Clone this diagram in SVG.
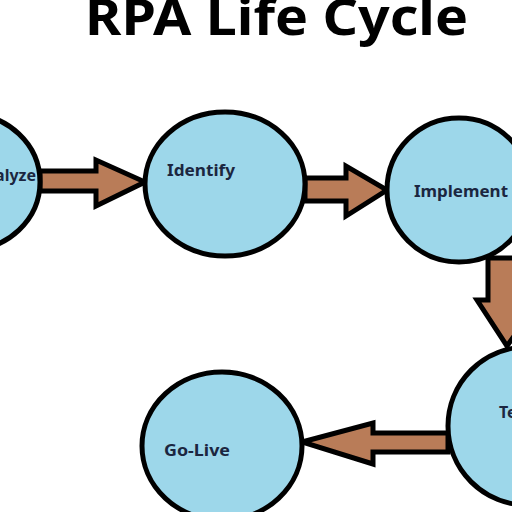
<svg xmlns="http://www.w3.org/2000/svg" width="512" height="512" viewBox="0 0 512 512">
<style>
.node{fill:#9dd7ea;stroke:#000;stroke-width:5}
.lbl{font-family:"Noto Sans","Open Sans","Liberation Sans",sans-serif;font-weight:bold;font-size:16px;fill:#1b2640}
.arr{fill:#b97c58;stroke:#000;stroke-width:5;stroke-linejoin:miter}
.title{font-family:"Noto Sans","Open Sans","Liberation Sans",sans-serif;font-weight:bold;font-size:50px;fill:#000}
</style>
<rect width="512" height="512" fill="#fff"/>
<text class="title" x="85" y="35" textLength="383" lengthAdjust="spacingAndGlyphs">RPA Life Cycle</text>
<g id="connectors">
<polygon class="arr" points="40,171 96,171 96,160 145,182 96,206 96,191 40,191"/>
<polygon class="arr" points="305,178 346,178 346,166 387,190 346,216 346,201 305,201"/>
<polygon class="arr" points="488,258 488,300 477,300 507,346 540,300 529,300 529,258"/>
<polygon class="arr" points="448,433 373,433 373,423 302,442 373,464 373,452 448,452"/>
</g>
<g id="analyze">
<ellipse class="node" cx="-32" cy="182" rx="72" ry="68"/>
<text class="lbl" x="36" y="181" text-anchor="end">Analyze</text>
</g>
<g id="identify">
<ellipse class="node" cx="225" cy="184" rx="80" ry="72"/>
<text class="lbl" x="167" y="176" textLength="68" lengthAdjust="spacingAndGlyphs">Identify</text>
</g>
<g id="implement">
<ellipse class="node" cx="459" cy="190" rx="72" ry="72"/>
<text class="lbl" x="414" y="197" textLength="94" lengthAdjust="spacingAndGlyphs">Implement</text>
</g>
<g id="test">
<ellipse class="node" cx="527" cy="426" rx="79" ry="79"/>
<text class="lbl" x="499" y="418">Test</text>
</g>
<g id="golive">
<ellipse class="node" cx="222" cy="446" rx="80" ry="74"/>
<text class="lbl" x="164" y="456" textLength="66" lengthAdjust="spacingAndGlyphs">Go-Live</text>
</g>
</svg>
